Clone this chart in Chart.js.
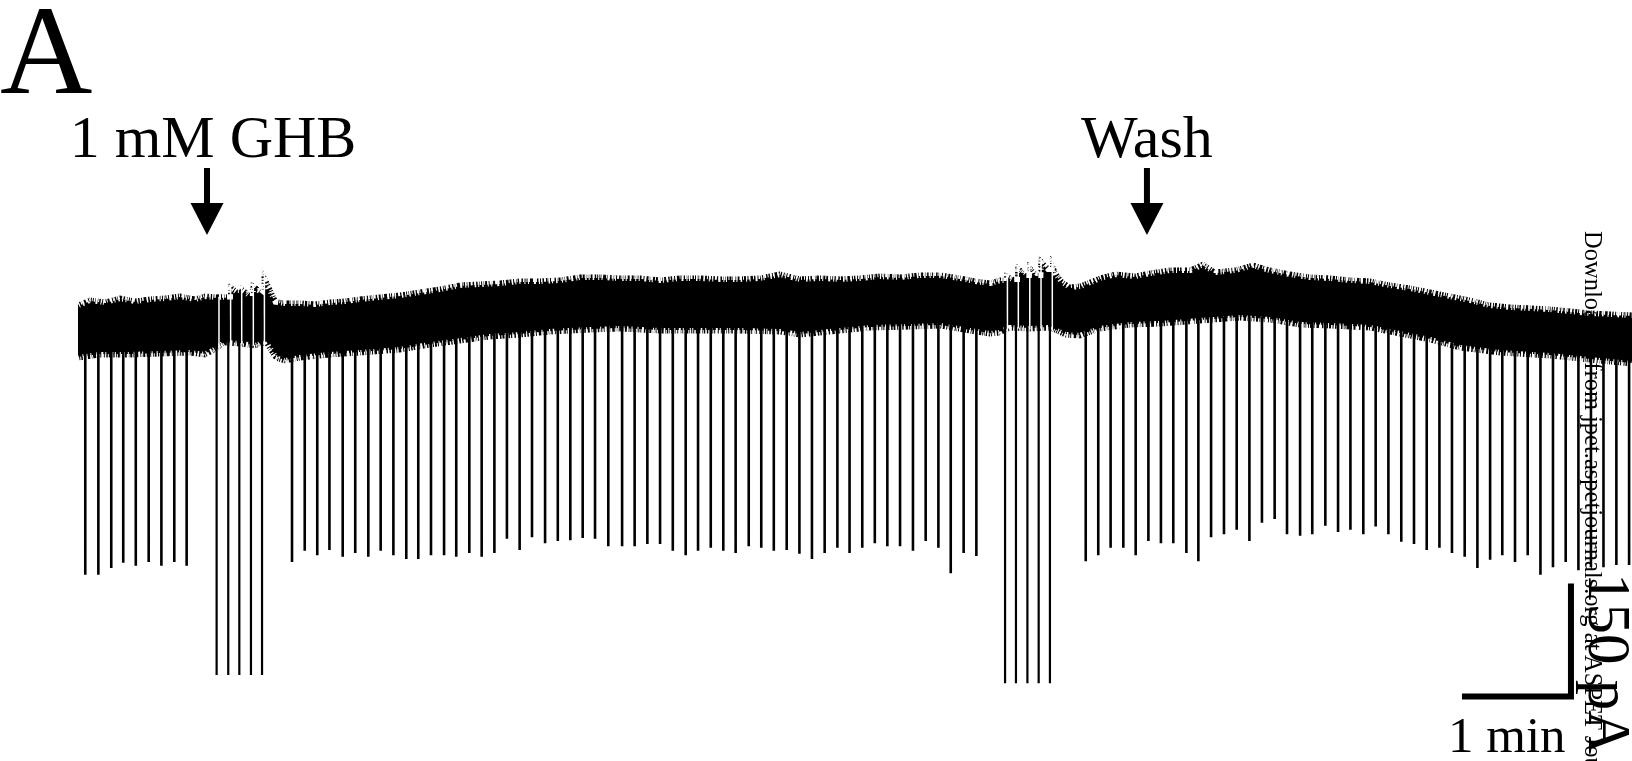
<!DOCTYPE html>
<html>
<head>
<meta charset="utf-8">
<title>GHB trace</title>
<script src="https://cdn.jsdelivr.net/npm/chart.js@4.4.1/dist/chart.umd.min.js"></script>
<style>
  html, body { margin: 0; padding: 0; background: #fff; overflow: hidden; }
  #wrap { position: relative; width: 1632px; height: 761px; overflow: hidden; }
  #wrap canvas { position: absolute; left: 0; top: 0; }
  .lbl { position: absolute; font-family: "Liberation Serif", "Times New Roman", serif; color: #000; line-height: 1; white-space: nowrap; }
  .rot { transform-origin: 0 0; transform: rotate(90deg); }
</style>
</head>
<body>
<div id="wrap">
  <canvas id="trace" width="1632" height="761"></canvas>
</div>
<script>
// time in s, current in pA (downward = inward current)
const GHB_T = 71.0;
const WASH_T = 588.4;

// noisy baseline band, upper and lower envelope
const topT = [0, 6.6, 14.9, 23.1, 31.4, 39.6, 47.9, 56.1, 64.4, 69.9, 76.0, 82.6, 82.8, 87.9, 89.0, 89.2, 94.6, 95.1, 95.3, 101.2, 101.4, 104.4, 109.5, 113.9, 122.2, 130.5, 138.7, 147.0, 155.2, 166.2, 177.2, 188.3, 199.3, 210.3, 221.3, 232.3, 243.3, 254.3, 265.3, 276.3, 287.3, 298.4, 309.4, 320.4, 331.4, 342.4, 353.4, 364.4, 375.4, 386.4, 397.4, 408.4, 419.5, 430.5, 441.5, 452.5, 463.5, 474.5, 485.5, 493.8, 502.0, 507.5, 509.7, 510.1, 514.7, 515.8, 516.1, 521.8, 522.4, 522.7, 527.9, 528.7, 529.0, 534.5, 535.0, 535.4, 538.9, 542.2, 546.1, 551.6, 557.1, 562.6, 570.8, 581.8, 590.1, 601.1, 612.1, 619.3, 625.9, 636.9, 646.8, 656.1, 667.1, 678.1, 689.2, 700.2, 711.2, 722.2, 733.2, 744.2, 755.2, 766.2, 777.2, 788.2, 799.2, 810.2, 821.3, 832.3, 843.3, 855.4];
const topI = [35.8, 42.5, 39.8, 45.1, 41.1, 43.8, 45.1, 47.8, 43.8, 47.8, 46.5, 47.0, 62.4, 53.1, 53.1, 59.7, 49.1, 49.1, 63.7, 53.1, 82.3, 66.4, 40.0, 38.5, 38.5, 37.2, 39.8, 41.1, 43.8, 46.5, 49.1, 53.1, 57.1, 62.4, 63.7, 65.0, 67.7, 67.7, 69.0, 73.0, 73.0, 71.7, 71.7, 69.0, 71.7, 71.7, 70.4, 70.4, 71.7, 77.0, 70.4, 71.7, 70.4, 71.7, 74.3, 73.0, 75.7, 75.7, 71.7, 67.7, 65.0, 69.0, 69.0, 75.7, 70.4, 70.4, 88.9, 75.7, 75.7, 90.3, 75.7, 75.7, 98.2, 83.6, 83.6, 98.2, 77.0, 66.4, 59.7, 61.1, 66.4, 71.7, 77.0, 74.3, 78.3, 82.3, 82.3, 90.3, 79.6, 82.3, 88.9, 82.3, 77.0, 73.0, 71.7, 69.0, 67.7, 62.4, 58.4, 53.1, 47.8, 42.5, 35.8, 33.2, 31.9, 30.5, 27.9, 25.2, 23.9, 22.6];
const botT = [0, 12.1, 28.6, 45.1, 61.7, 69.9, 75.4, 80.9, 89.2, 97.4, 102.9, 108.4, 113.9, 122.2, 138.7, 155.2, 177.2, 193.8, 210.3, 226.8, 243.3, 259.8, 281.8, 298.4, 320.4, 342.4, 364.4, 386.4, 397.4, 413.9, 436.0, 458.0, 474.5, 491.0, 502.0, 507.5, 513.0, 524.0, 535.0, 543.3, 551.6, 562.6, 579.1, 595.6, 617.6, 639.6, 656.1, 672.7, 689.2, 711.2, 727.7, 744.2, 760.7, 782.8, 810.3, 832.3, 855.4];
const botI = [-39.8, -35.8, -35.8, -34.5, -33.2, -35.8, -29.2, -19.9, -21.2, -23.9, -19.9, -39.8, -43.8, -39.8, -35.8, -33.2, -29.2, -22.6, -17.3, -11.9, -9.3, -5.3, -2.7, -1.3, -4.0, -4.0, -4.0, -5.3, -9.3, -5.3, 0, 1.3, 2.7, -4.0, -8.0, -6.6, 0, -1.3, 0, -9.3, -10.6, -1.3, 4.0, 5.3, 9.3, 13.3, 10.6, 4.0, 2.7, 0, -8.0, -15.9, -26.5, -33.2, -37.2, -42.5, -47.8];

// spontaneous inward currents: time and peak
const spikeT = [4.0, 11.2, 18.3, 24.9, 31.8, 38.9, 45.9, 53.0, 59.8,
  117.8, 124.8, 131.7, 138.4, 145.7, 152.6, 159.8, 166.6, 173.6, 180.7, 187.3, 194.3, 201.5, 208.2, 215.4, 222.2, 229.2, 236.1, 243.1, 249.9, 257.1, 264.1, 271.0, 277.8, 284.6, 291.9, 299.5, 306.4, 313.4, 320.4, 327.4, 334.5, 341.3, 348.3, 355.2, 362.0, 369.2, 376.1, 383.0, 390.1, 397.1, 404.0, 411.0, 418.0, 424.7, 431.7, 438.6, 445.5, 452.5, 459.6, 466.6, 473.6, 480.4, 487.5, 494.5,
  554.7, 561.6, 568.4, 575.4, 582.2, 589.2, 596.1, 602.9, 610.1, 616.7, 623.7, 630.8, 637.8, 644.8, 651.7, 658.7, 665.5, 672.7, 679.4, 686.6, 693.6, 700.4, 707.5, 714.3, 721.3, 728.4, 735.4, 742.4, 749.4, 756.3, 763.3, 770.3, 777.3, 784.0, 791.0, 798.0, 805.0, 811.9, 818.9, 825.9, 832.8, 839.7, 846.8, 853.8];
const spikeI = [-325, -325, -316, -309, -313, -308, -313, -308, -313,
  -308, -293, -299, -292, -301, -296, -301, -293, -299, -304, -304, -299, -299, -301, -296, -301, -296, -277, -292, -275, -283, -280, -279, -276, -277, -287, -287, -287, -284, -284, -293, -299, -293, -289, -293, -296, -287, -289, -293, -292, -297, -304, -296, -289, -296, -289, -283, -287, -287, -293, -280, -289, -323, -296, -300,
  -307, -299, -289, -289, -299, -280, -283, -283, -296, -307, -275, -271, -265, -280, -256, -251, -271, -273, -271, -260, -268, -265, -271, -261, -271, -281, -284, -292, -289, -296, -301, -316, -305, -299, -308, -299, -325, -315, -308, -319, -315, -315, -312, -312];

// large currents right after each solution change
const bigT = [76.3, 82.7, 88.8, 95.2, 101.3, 510.3, 516.3, 522.6, 528.8, 535.0];
const bigI = [-458, -458, -458, -458, -458, -469, -469, -469, -469, -469];
const gapTop = [44, 58, 56, 60, 78, 72, 85, 87, 95, 95];
const gapBot = [-27, -18, -19, -21, -18, -4, 2, 1, 2, -2];

const SPIKE_FROM = 18;       // pA, inside the band
const BAR_T = 821.8, BAR_I = -486.5;  // scale bar corner
const BAR_MIN = 60, BAR_PA = 150;

const X_MIN = -42.94, X_MAX = 855.4;
const Y_MIN = -572.1, Y_MAX = 438.0;

const pts = (ts, ys) => ts.map((t, i) => ({ x: t, y: ys[i] }));
const segs = (ts, y0, y1, dt = 0) => {
  const out = [];
  ts.forEach((t, i) => {
    const a = Array.isArray(y0) ? y0[i] : y0;
    out.push({ x: t + dt, y: a }, { x: t + dt, y: y1[i] }, { x: t + dt, y: null });
  });
  return out;
};

const arrows = {
  id: 'arrows',
  afterDraw(chart) {
    const ctx = chart.ctx;
    ctx.save();
    ctx.fillStyle = '#000';
    [GHB_T, WASH_T].forEach(t => {
      const x = chart.scales.x.getPixelForValue(t);
      ctx.fillRect(x - 3, 168, 6, 38);
      ctx.beginPath();
      ctx.moveTo(x - 16.5, 203);
      ctx.lineTo(x + 16.5, 203);
      ctx.lineTo(x, 235);
      ctx.closePath();
      ctx.fill();
    });
    ctx.restore();
  }
};

const line = (data, color, w, extra = {}) => Object.assign({
  data, borderColor: color, borderWidth: w, pointRadius: 0, tension: 0,
  fill: false, spanGaps: false, borderCapStyle: 'butt'
}, extra);

// white notches along the band edges give the noisy look
const notch = (ts, ys, w, dash) => line(pts(ts, ys), '#fff', w, { borderDash: dash });

const chart = new Chart(document.getElementById('trace'), {
  type: 'line',
  data: {
    datasets: [
      line([{ x: BAR_T - BAR_MIN, y: BAR_I }, { x: BAR_T, y: BAR_I }, { x: BAR_T, y: BAR_I + BAR_PA }], '#000', 6, { borderJoinStyle: 'miter' }),
      line(segs(spikeT, SPIKE_FROM, spikeI), '#000', 2.6),
      line(segs(bigT, SPIKE_FROM, bigI), '#000', 2.2),
      line(segs(bigT, gapTop, gapBot, 1.3), '#fff', 1.5),
      notch(topT, topI, 6, [1, 1.5, 1.5, 1, 1, 2, 2, 1.5, 1, 2.5, 1, 1, 1.5, 3, 1, 2]),
      notch(topT, topI, 10, [1, 3, 1.5, 4, 1, 2.5, 1, 5, 2, 3, 1, 1.5, 1, 6, 1.5, 2]),
      notch(botT, botI, 6, [1.5, 1, 1, 2, 1, 1.5, 2, 2.5, 1, 1, 1, 3, 1.5, 1.5, 1, 2]),
      notch(botT, botI, 10, [1, 4, 1, 2.5, 1.5, 3, 1, 5, 1, 3.5, 2, 2, 1, 6, 1, 1.5]),
      line(pts(topT, topI), '#000', 1, { fill: '+1', backgroundColor: '#000' }),
      line(pts(botT, botI), '#000', 1)
    ]
  },
  options: {
    responsive: false,
    animation: false,
    events: [],
    layout: { padding: 0 },
    plugins: { legend: { display: false }, tooltip: { enabled: false } },
    scales: {
      x: { type: 'linear', display: false, min: X_MIN, max: X_MAX },
      y: { type: 'linear', display: false, min: Y_MIN, max: Y_MAX }
    }
  },
  plugins: [arrows]
});

// labels
const wrap = document.getElementById('wrap');
function label(text, size, css) {
  const d = document.createElement('div');
  d.className = 'lbl';
  d.textContent = text;
  d.style.fontSize = size + 'px';
  Object.assign(d.style, css);
  wrap.appendChild(d);
  return d;
}
const xPx = t => chart.scales.x.getPixelForValue(t);
label('A', 128, { left: '0px', top: '-14px' });
label('1 mM GHB', 60, { left: (xPx(GHB_T) - 294) + 'px', width: '600px', textAlign: 'center', top: '107px' });
label('Wash', 60, { left: (xPx(WASH_T) - 300) + 'px', width: '600px', textAlign: 'center', top: '107px' });
label('1 min', 51, { left: '1448px', top: '710px' });
label('150 pA', 61, { left: '1640px', top: '573px' }).classList.add('rot');
label('Downloaded from jpet.aspetjournals.org at ASPET Journals on April 19, 2024', 24.5, { left: '1605px', top: '231px' }).classList.add('rot');
</script>
</body>
</html>
